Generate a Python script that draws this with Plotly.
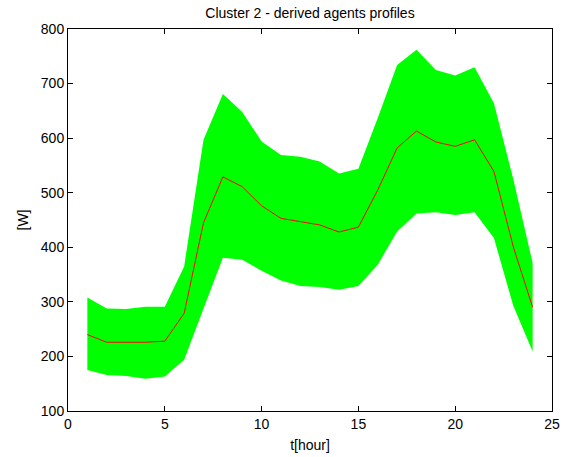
import plotly.graph_objects as go

hours = list(range(1, 25))
mean_w = [240, 226, 226, 226, 228, 279, 445, 529, 511, 476, 453, 447, 441, 428, 437, 505,
          582, 613, 593, 585, 597, 539, 401, 290]
upper_w = [308, 288, 287, 291, 291, 365, 597, 681, 648, 594, 569, 566, 557, 535, 544, 637,
           734, 762, 725, 715, 730, 664, 525, 371]
lower_w = [175, 166, 164, 159, 163, 194, 288, 381, 377, 357, 339, 329, 327, 322, 329, 368,
           429, 462, 464, 459, 464, 417, 293, 209]

FONT = "Liberation Sans, Arial, sans-serif"

fig = go.Figure()
fig.add_trace(go.Scatter(x=hours, y=lower_w, mode="lines", line=dict(width=0, color="#00ff00"),
                         showlegend=False, hoverinfo="skip"))
fig.add_trace(go.Scatter(x=hours, y=upper_w, mode="lines", line=dict(width=0, color="#00ff00"),
                         fill="tonexty", fillcolor="#00ff00", showlegend=False, hoverinfo="skip"))
fig.add_trace(go.Scatter(x=hours, y=mean_w, mode="lines", line=dict(width=1, color="#ff0000"),
                         showlegend=False))

axis_common = dict(showgrid=False, zeroline=False, showline=True, linecolor="black", linewidth=1,
                   mirror="ticks", ticks="inside", ticklen=5, tickcolor="black", automargin=False,
                   tickfont=dict(family=FONT, size=14, color="black"))

fig.update_layout(
    width=571, height=457,
    margin=dict(l=68, r=19, t=29, b=46),
    paper_bgcolor="white", plot_bgcolor="white",
    title=dict(text="Cluster 2 - derived agents profiles", x=0.5, xref="paper", xanchor="center",
               y=1 - 13 / 457, yanchor="middle",
               font=dict(family=FONT, size=14, color="black")),
    xaxis=dict(range=[0, 25], dtick=5, tick0=0,
               title=dict(text="t[hour]", standoff=9,
                          font=dict(family=FONT, size=14, color="black")),
               **axis_common),
    yaxis=dict(range=[100, 800], dtick=100, tick0=100,
               title=dict(text="[W]", standoff=8,
                          font=dict(family=FONT, size=14, color="black")),
               **axis_common),
)

fig.write_html("out.html")
